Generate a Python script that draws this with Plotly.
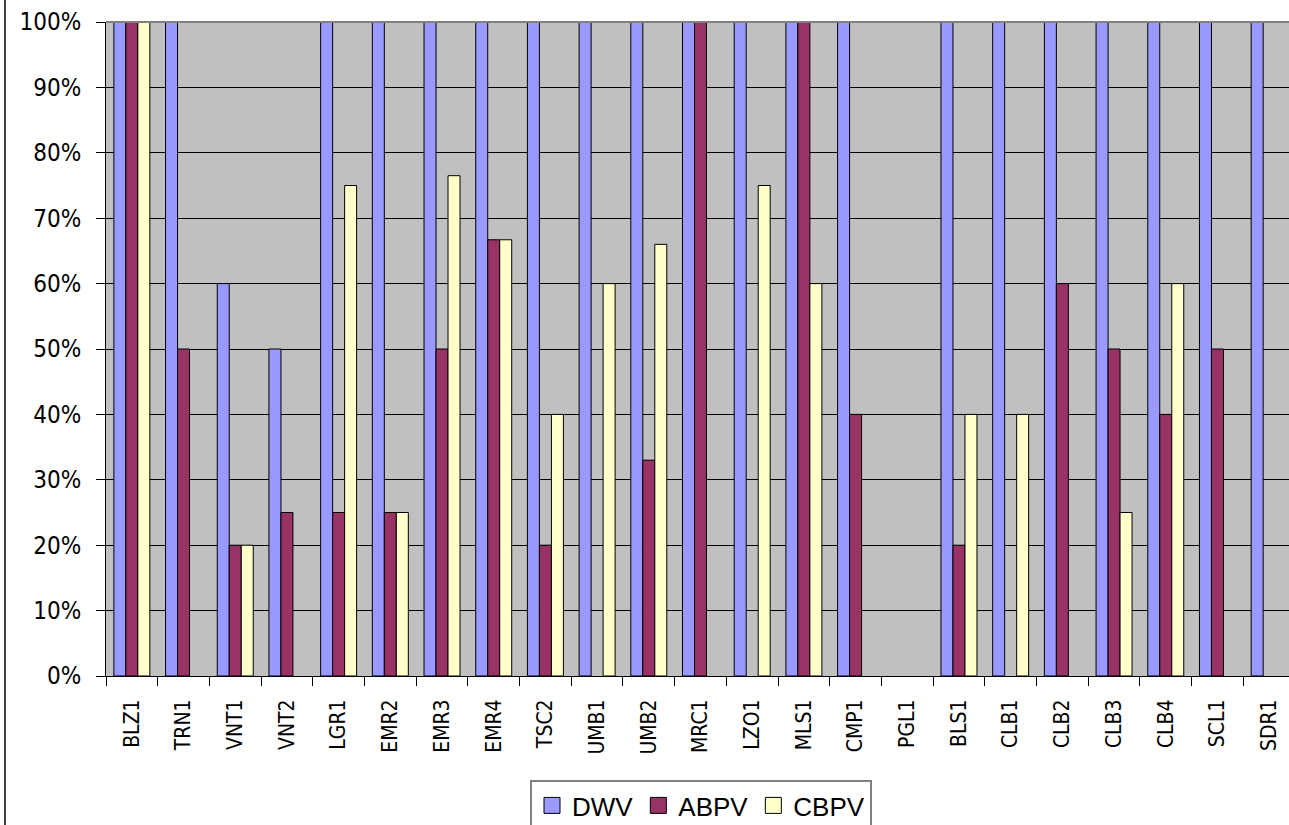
import plotly.graph_objects as go

# Sites and the share of samples positive for each virus
sites = ["BLZ1", "TRN1", "VNT1", "VNT2", "LGR1", "EMR2", "EMR3", "EMR4", "TSC2",
         "UMB1", "UMB2", "MRC1", "LZO1", "MLS1", "CMP1", "PGL1", "BLS1", "CLB1",
         "CLB2", "CLB3", "CLB4", "SCL1", "SDR1"]

dwv = [1.00, 1.00, 0.60, 0.50, 1.00, 1.00, 1.00, 1.00, 1.00, 1.00, 1.00, 1.00,
       1.00, 1.00, 1.00, 0.00, 1.00, 1.00, 1.00, 1.00, 1.00, 1.00, 1.00]
abpv = [1.00, 0.50, 0.20, 0.25, 0.25, 0.25, 0.50, 0.667, 0.20, 0.00, 0.33, 1.00,
        0.00, 1.00, 0.40, 0.00, 0.20, 0.00, 0.60, 0.50, 0.40, 0.50, 0.00]
cbpv = [1.00, 0.00, 0.20, 0.00, 0.75, 0.25, 0.765, 0.667, 0.40, 0.60, 0.66, 0.00,
        0.75, 0.60, 0.00, 0.00, 0.40, 0.40, 0.00, 0.25, 0.60, 0.00, 0.00]

series = [("DWV", dwv, "#9999FF"), ("ABPV", abpv, "#993366"), ("CBPV", cbpv, "#FFFFCC")]

W, H = 1289, 825
ML, MT, MB = 106, 22, 149
plot_w = W - ML
plot_h = H - MT - MB

fig = go.Figure()
for name, vals, color in series:
    # zero-height bars get no outline so nothing shows on the baseline
    widths = [1 if v > 0 else 0 for v in vals]
    fig.add_trace(go.Bar(
        name=name, x=sites, y=vals, showlegend=False,
        marker=dict(color=color, line=dict(color="#000000", width=widths)),
    ))

# legend keys: square swatches with a dark outline
for name, _, color in series:
    fig.add_trace(go.Scatter(
        name=name, x=[None], y=[None], mode="markers",
        marker=dict(symbol="square", size=16, color=color,
                    line=dict(color="#000000", width=1)),
    ))

tick_font = "DejaVu Sans Condensed, DejaVu Sans, sans-serif"

fig.update_layout(
    width=W, height=H,
    margin=dict(l=ML, r=0, t=MT, b=MB, pad=0, autoexpand=False),
    paper_bgcolor="white",
    plot_bgcolor="#C0C0C0",
    barmode="group",
    bargap=0.304,
    bargroupgap=0,
    showlegend=True,
    legend=dict(
        orientation="h",
        x=(530 - ML) / plot_w, xanchor="left",
        y=-104 / plot_h, yanchor="top",
        bgcolor="white", bordercolor="#808080", borderwidth=2,
        font=dict(family="Liberation Sans, Arial, sans-serif", size=26, color="black"),
        traceorder="normal",
        itemsizing="trace",
        itemwidth=30,
    ),
    xaxis=dict(
        type="category",
        range=[-0.5, 22.384],
        tickson="boundaries",
        ticks="outside", ticklen=9, tickcolor="black", tickwidth=1,
        showline=True, linecolor="black", linewidth=1,
        showgrid=False,
        tickangle=-90,
        tickfont=dict(family=tick_font, size=21, color="black"),
        ticklabelstandoff=14,
        automargin=False,
    ),
    yaxis=dict(
        range=[0, 1],
        dtick=0.1,
        tickformat=".0%",
        ticks="outside", ticklen=9, tickcolor="black", tickwidth=1,
        showline=True, linecolor="black", linewidth=1,
        showgrid=True, gridcolor="black", gridwidth=1,
        zeroline=False,
        tickfont=dict(family=tick_font, size=24, color="black"),
        ticklabelstandoff=10,
        automargin=False,
    ),
    shapes=[
        # outer chart border on the left side
        dict(type="line", xref="paper", yref="paper",
             x0=(5 - ML) / plot_w, x1=(5 - ML) / plot_w, y0=-0.5, y1=1.2,
             line=dict(color="black", width=1.5)),
        # plot area top edge
        dict(type="line", xref="paper", yref="paper",
             x0=0, x1=1, y0=1, y1=1,
             line=dict(color="#808080", width=2)),
    ],
)

fig.write_html("out.html")
